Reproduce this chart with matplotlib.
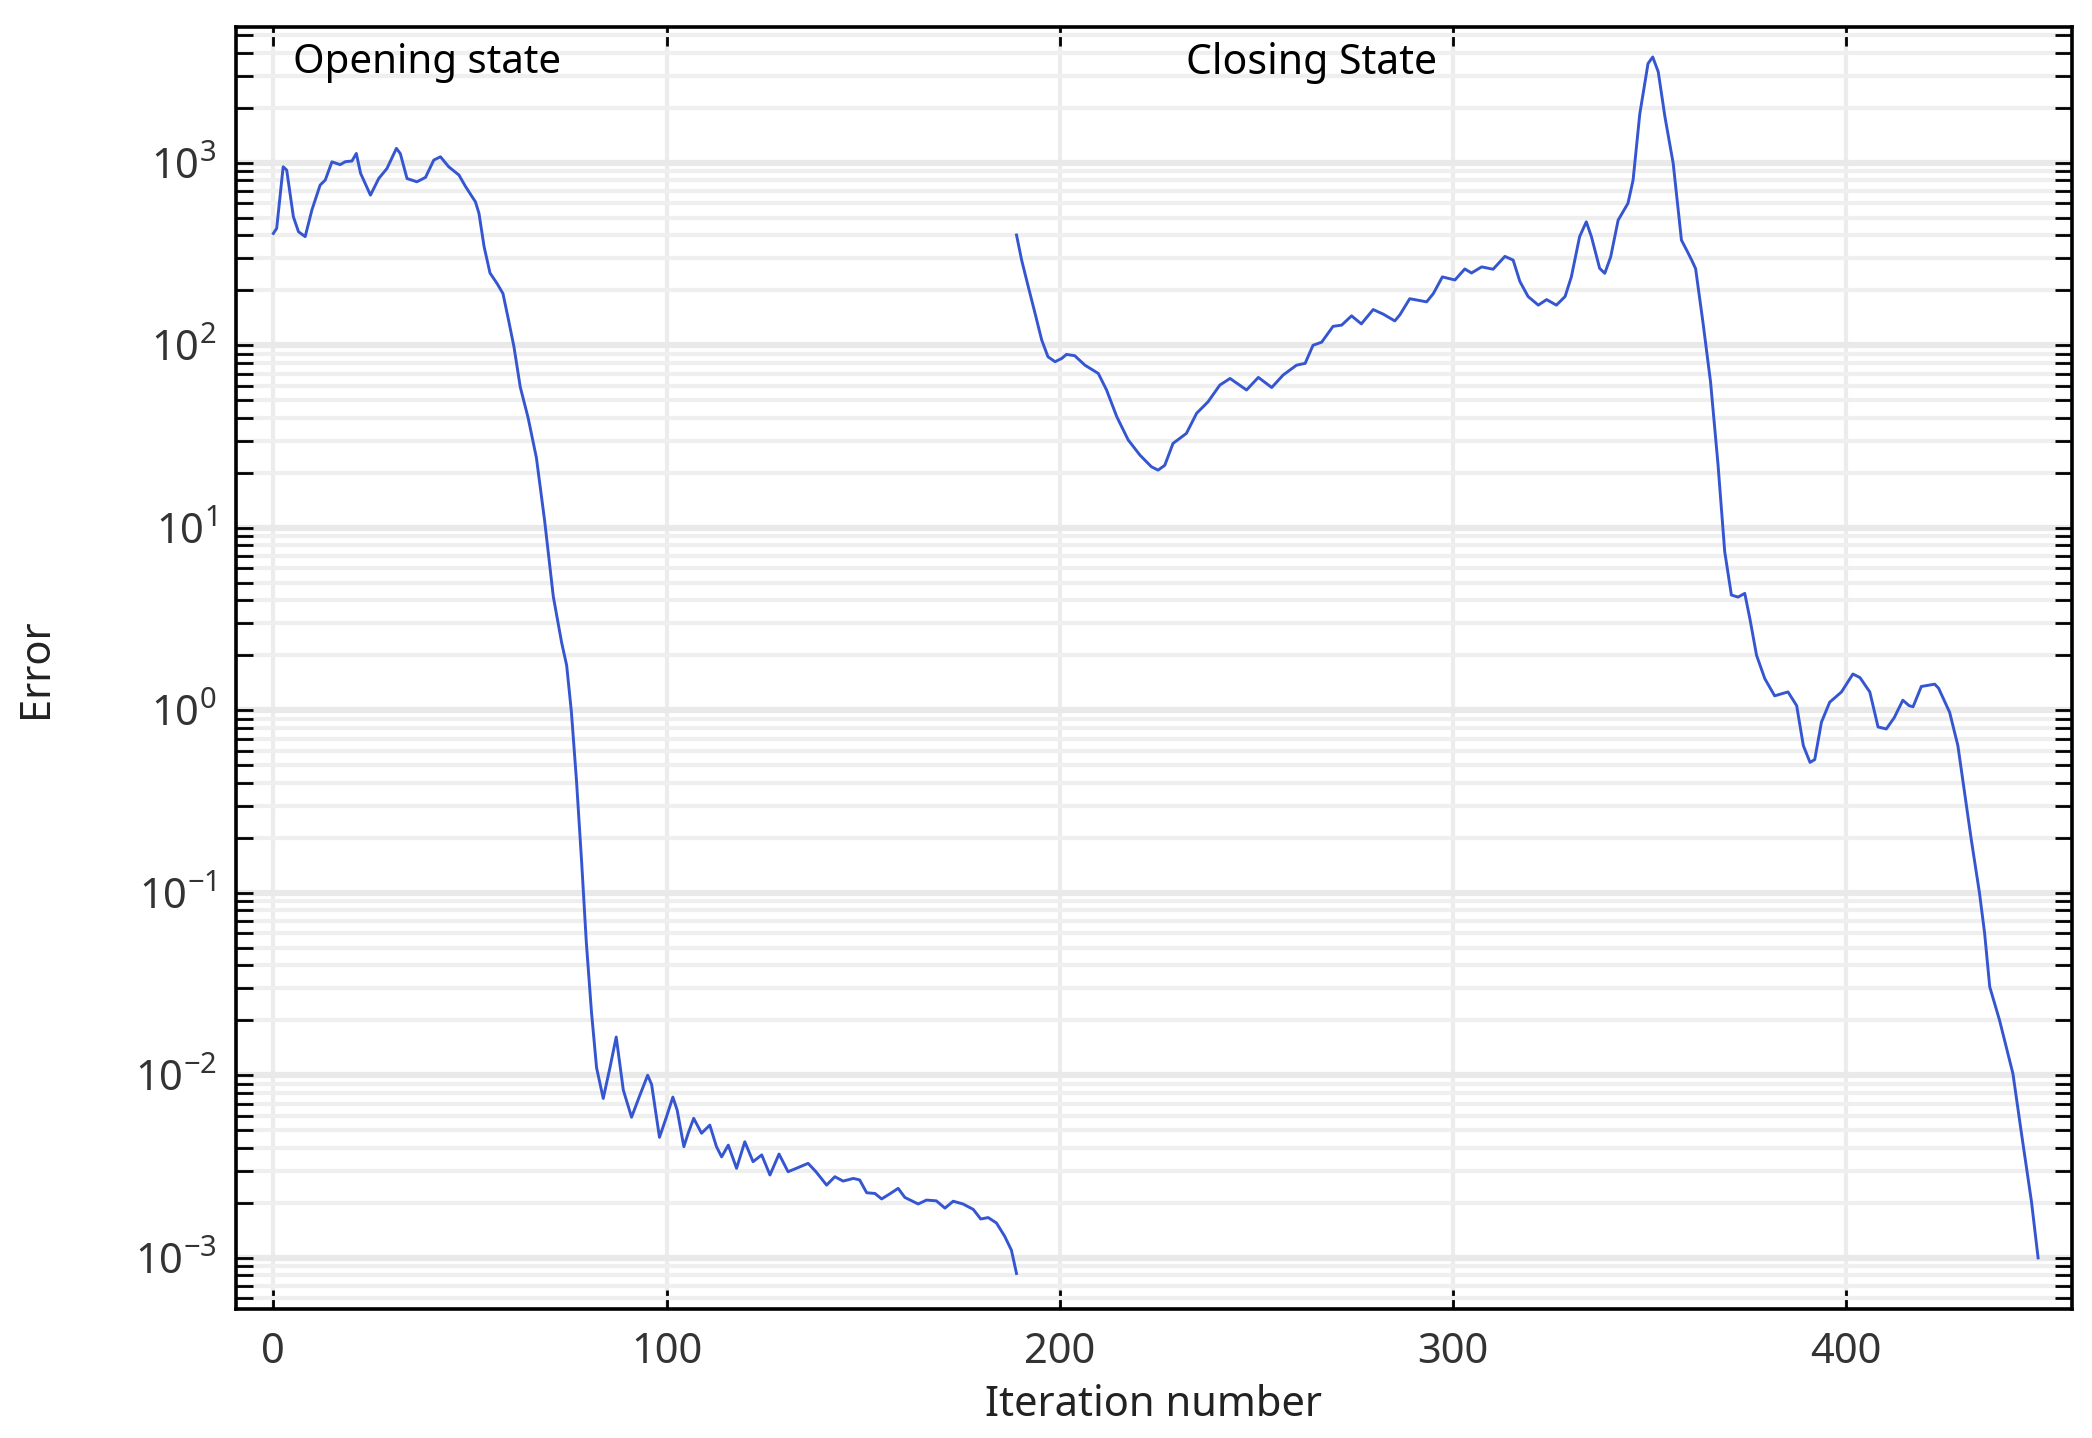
#!/usr/bin/env python
import matplotlib
matplotlib.use('Agg')
import matplotlib.pyplot as plt
import matplotlib.ticker as mticker

plt.rcParams['font.family'] = ['Noto Sans', 'DejaVu Sans']
plt.rcParams['mathtext.fontset'] = 'custom'
plt.rcParams['mathtext.rm'] = 'Noto Sans'
plt.rcParams['mathtext.it'] = 'Noto Sans'

# opening state
open_iter = [0, 0.85, 2.5, 3.4, 5.1, 6.4, 8.1, 9.8, 11.9, 13.2, 14.9, 17.0, 18.3, 20.0,
             21.1, 22.2, 24.7, 26.8, 28.9, 31.3, 32.3, 34.0, 36.5, 38.7, 40.8, 42.5,
             44.6, 47.2, 48.9, 51.4, 52.3, 53.6, 55.1, 56.9, 58.4, 59.8, 61.2, 62.8,
             64.8, 66.9, 69.0, 71.2, 73.3, 74.6, 75.8, 77.1, 78.4, 79.6, 80.9, 82.2,
             83.9, 85.6, 87.2, 89.0, 91.1, 93.2, 95.2, 96.2, 98.2, 100.0, 101.6, 102.7,
             104.4, 105.5, 106.9, 108.9, 111.0, 112.7, 114.0, 115.7, 117.8, 119.9,
             122.0, 124.2, 126.3, 128.6, 130.9, 133.0, 136.0, 138.0, 140.7, 142.8,
             144.9, 147.5, 149.1, 150.9, 153.0, 154.7, 156.8, 158.9, 160.6, 164.0,
             166.1, 168.6, 170.8, 172.9, 175.4, 178.0, 179.9, 181.8, 183.9, 186.0,
             187.7, 189.0]
open_err = [410, 437, 951, 912, 506, 419, 394, 551, 755, 804, 1012, 977, 1014, 1023,
            1125, 875, 665, 820, 931, 1200, 1122, 820, 787, 832, 1035, 1079,
            951, 857, 740, 611, 528, 347, 249, 218, 192, 138, 98, 59,
            40, 24.2, 10.9, 4.2, 2.36, 1.76, 0.98, 0.41, 0.148, 0.0533, 0.0223, 0.011,
            0.00746, 0.011, 0.0162, 0.0083, 0.00589, 0.00776, 0.0100, 0.0089, 0.00457,
            0.00593, 0.00759, 0.00644,
            0.00406, 0.00481, 0.00581, 0.00481, 0.00533, 0.00406, 0.00357, 0.00414,
            0.00309, 0.00432,
            0.00336, 0.00366, 0.00284, 0.00370, 0.00296, 0.00309, 0.00329, 0.00296,
            0.0025, 0.00278,
            0.00263, 0.00272, 0.00267, 0.00227, 0.00225, 0.0021, 0.00224, 0.0024,
            0.00214, 0.00197,
            0.00207, 0.00205, 0.00187, 0.00204, 0.00197, 0.00184, 0.00163, 0.00166,
            0.00155, 0.00131,
            0.0011, 0.00082]

# closing state
close_iter = [189.0, 190.3, 192.0, 193.7, 195.4, 197.0, 198.8, 200.5, 201.7, 203.8,
              206.4, 209.8, 211.9, 214.5, 217.4, 220.4, 223.3, 225.0, 226.7, 228.8,
              232.2, 234.8, 237.7, 240.7, 243.3, 247.5, 250.5, 253.9, 256.8, 260.2,
              262.4, 264.4, 266.6, 269.5, 271.7, 274.2, 276.7, 279.7, 282.3, 285.2,
              286.5, 289.0, 293.3, 295.0, 297.3, 300.5, 303.0, 304.7, 307.3, 310.2,
              313.2, 315.3, 317.0, 319.1, 321.7, 323.8, 326.3, 328.5, 330.1, 332.2,
              333.9, 335.2, 337.3, 338.6, 340.1, 342.0, 344.5, 345.8, 347.5, 349.6,
              350.8, 352.2, 353.9, 356.0, 358.1, 359.4, 360.7, 361.7, 363.6, 365.5,
              367.4, 369.1, 370.8, 372.5, 374.2, 375.5, 377.2, 379.3, 381.8, 383.5,
              385.2, 387.4, 389.1, 390.8, 392.0, 393.7, 395.8, 398.8, 401.7, 403.5,
              406.0, 408.1, 410.2, 412.2, 414.4, 416.0, 417.0, 419.1, 422.5, 423.5,
              426.3, 428.4, 430.1, 431.8, 433.9, 435.2, 436.5, 439.0, 442.4, 444.6,
              447.1, 448.8]
close_err = [402, 293, 209, 150, 107, 86.5, 81.3, 84.7, 89.1, 87.7,
             77.8, 70.1, 56.9, 40.6, 30.3, 25.0, 21.6, 20.7, 22.0, 29.0,
             32.9, 42.4, 49.0, 60.5, 65.8, 56.9, 66.7, 58.7, 68.7, 77.8,
             79.6, 100, 104, 127, 129, 145, 131, 157, 148, 136,
             147, 180, 173, 192, 237, 228, 262, 249, 269, 261,
             307, 293, 224, 185, 166, 178, 166, 185, 237, 394,
             475, 394, 264, 248, 305, 485, 600, 804, 1850, 3500,
             3800, 3150, 1786, 993, 377, 333, 293, 263, 132, 63,
             22.2, 7.41, 4.28, 4.17, 4.37, 3.18, 2.0, 1.49, 1.2, 1.23,
             1.26, 1.06, 0.64, 0.518, 0.537, 0.86, 1.107, 1.26, 1.58, 1.51,
             1.26, 0.81, 0.79, 0.91, 1.135, 1.06, 1.045, 1.35, 1.39, 1.32,
             0.975, 0.64, 0.354, 0.196, 0.0995, 0.06, 0.0305, 0.02, 0.0102, 0.00475,
             0.00204, 0.000998]

x_ticks = [0, 100, 200, 300, 400]

figure = plt.figure(figsize=(20.92, 14.38), dpi=100)
ax = figure.add_axes((0.1128, 0.0897, 0.8776, 0.8915))

line_color = '#3556d0'
ax.plot(open_iter, open_err, color=line_color, lw=2.1)
ax.plot(close_iter, close_err, color=line_color, lw=2.1)

ax.set_yscale('log')
ax.set_xlim(-9.5, 457.4)
ax.set_ylim(10**-3.281, 10**3.744)

ax.set_xticks(x_ticks)
ax.yaxis.set_major_locator(mticker.LogLocator(base=10, numticks=20))
ax.yaxis.set_minor_locator(mticker.LogLocator(base=10, subs=range(2, 10), numticks=20))
ax.yaxis.set_minor_formatter(mticker.NullFormatter())

ax.set_axisbelow(True)
ax.grid(which='major', axis='x', color='#ececec', lw=3)
ax.grid(which='minor', axis='y', color='#efefef', lw=3)
ax.grid(which='major', axis='y', color='#e9e9e9', lw=4.5)

for s in ax.spines.values():
    s.set_linewidth(2.6)
ax.tick_params(axis='x', which='major', direction='in', top=True, bottom=True,
               length=14, width=2, pad=16, labelsize=30, labelcolor='#333333')
ax.tick_params(axis='y', which='both', direction='in', left=True, right=True,
               length=12, width=2, pad=14, labelsize=30, labelcolor='#333333')

ax.set_xlabel('Iteration number', fontsize=30, color='#222222', labelpad=8)
ax.set_ylabel('Error', fontsize=30, color='#222222', labelpad=56)

ax.text(5, 0.972, 'Opening state', transform=ax.get_xaxis_transform(),
        fontsize=29, color='black', va='center', ha='left')
ax.text(232, 0.972, 'Closing State', transform=ax.get_xaxis_transform(),
        fontsize=29.5, color='black', va='center', ha='left')

figure.savefig('out.png', dpi=100)
